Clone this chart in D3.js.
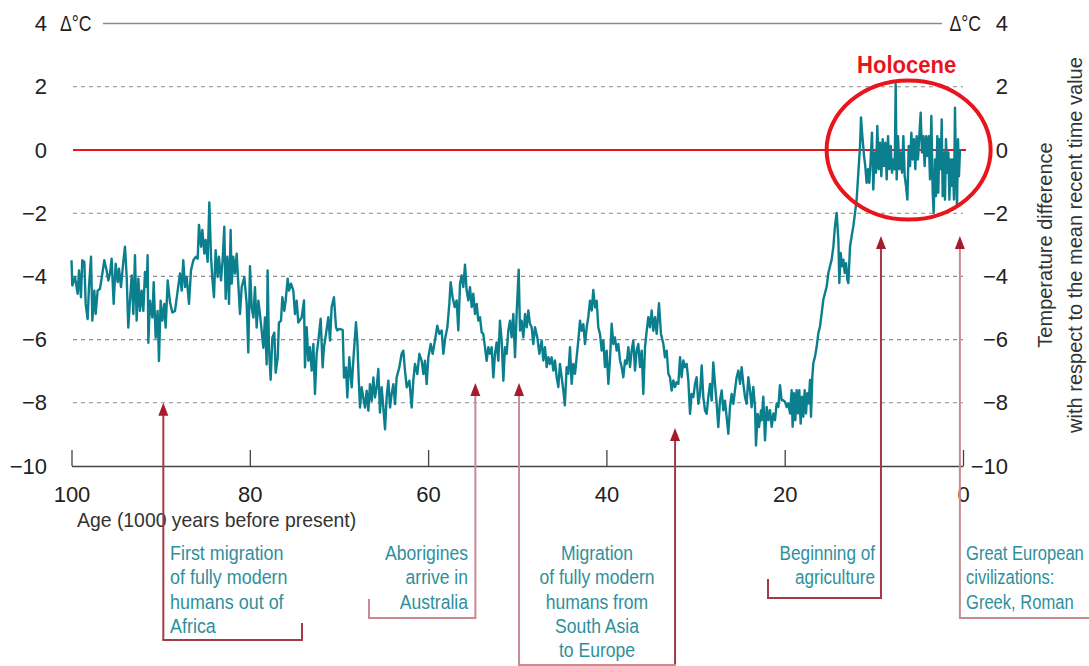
<!DOCTYPE html>
<html><head><meta charset="utf-8">
<script src="https://cdn.jsdelivr.net/npm/d3@7"></script>
<style>
html,body{margin:0;padding:0;background:#fff;}
svg text{font-family:"Liberation Sans Narrow","Liberation Sans",Arial,sans-serif;}
</style></head><body>
<svg id="chart" width="1089" height="666"></svg>
<script>
// ---- DATA ----
const ages = [
100.00,99.91,99.61,99.31,99.16,98.94,98.79,98.56,98.41,98.19,98.04,97.81,97.66,97.44,97.29,97.07,96.80,96.54,96.32,96.06,
95.87,95.68,95.50,95.27,95.05,94.82,94.67,94.45,94.19,94.00,93.81,93.63,93.44,93.25,93.06,92.88,92.69,92.50,92.32,92.13,
91.94,91.76,91.57,91.46,91.38,91.20,90.93,90.78,90.56,90.34,90.19,90.00,89.81,89.59,89.44,89.21,88.95,88.69,88.39,88.09,
87.83,87.64,87.46,87.27,87.08,86.82,86.60,86.33,86.07,85.85,85.70,85.47,85.32,85.10,84.95,84.73,84.54,84.35,84.20,84.02,
83.83,83.61,83.46,83.23,83.05,82.86,82.71,82.52,82.33,82.15,82.03,81.85,81.66,81.47,81.29,81.10,80.91,80.61,80.35,80.17,
79.98,79.79,79.60,79.42,79.23,79.04,78.86,78.67,78.48,78.30,78.11,78.00,77.85,77.66,77.47,77.25,77.10,76.87,76.73,76.50,
76.35,76.13,75.98,75.75,75.60,75.38,75.12,74.93,74.74,74.56,74.18,
73.92,73.81,73.62,73.43,73.25,73.06,72.87,72.69,72.50,72.31,72.05,71.83,71.68,71.45,71.19,71.00,70.82,70.56,70.33,70.18,
69.96,69.58,69.43,69.21,69.06,68.84,68.57,68.39,68.09,67.94,67.79,67.64,67.45,67.27,67.08,66.89,66.70,66.52,66.33,66.14,
65.96,65.77,65.58,65.40,65.21,65.02,64.83,64.65,64.46,64.27,64.09,63.90,63.71,63.53,63.23,62.97,62.78,62.59,62.40,62.10,
61.84,61.66,61.47,61.21,60.98,60.72,60.53,60.35,60.16,59.97,59.71,59.49,59.23,58.97,58.74,58.48,58.29,58.07,57.84,57.62,
57.47,57.25,57.02,56.80,56.61,56.42,56.24,56.05,55.86,55.68,55.49,55.30,55.11,54.93,54.74,54.55,54.37,54.18,53.99,53.81,
53.62,53.43,53.24,53.06,52.87,52.68,52.50,52.31,52.12,51.94,51.75,51.56,51.38,51.19,51.00,50.81,50.63,50.44,50.25,50.07,
49.84,49.69,49.51,49.32,49.13,48.94,48.76,48.57,48.38,48.20,48.01,47.75,47.52,
47.26,47.08,46.89,46.70,46.51,46.33,46.14,45.95,45.77,45.58,45.39,45.21,45.02,44.83,44.66,44.46,44.27,44.08,43.90,43.71,
43.52,43.34,43.15,42.96,42.78,42.59,42.40,42.21,42.03,41.84,41.65,41.47,41.28,41.09,40.91,40.72,40.53,40.34,40.16,39.97,
39.78,39.60,39.41,39.22,39.04,38.85,38.66,38.47,38.29,38.10,37.91,37.73,37.54,37.35,37.17,36.98,36.79,36.61,36.42,36.23,
36.04,35.86,35.67,35.48,35.30,35.11,34.92,34.74,34.55,34.36,34.10,33.88,33.61,33.43,33.24,33.05,32.87,32.68,32.49,32.31,
32.12,31.93,31.74,31.56,31.37,31.18,31.00,30.81,30.62,30.44,30.25,30.06,29.88,29.69,29.50,29.31,29.13,28.94,28.75,28.57,
28.38,28.19,28.01,27.82,27.63,27.45,27.26,27.07,26.88,26.70,26.51,26.32,26.14,25.95,25.76,25.58,25.39,25.20,25.01,24.83,
24.64,24.45,24.27,24.08,23.89,23.71,23.52,23.33,23.22,23.03,22.88,22.66,
22.58,22.40,22.21,22.02,21.84,21.65,21.46,21.27,21.09,20.90,20.71,20.53,20.34,20.15,19.97,19.78,19.59,19.40,19.22,19.11,
18.96,18.81,18.66,18.51,18.36,18.21,18.06,17.91,17.76,17.61,17.46,17.31,17.16,17.05,16.90,16.79,16.60,16.41,16.23,16.04,
15.85,15.67,15.48,15.29,15.10,14.92,14.73,14.54,14.36,14.17,13.98,13.87,13.72,13.57,13.42,13.27,13.12,12.97,12.86,12.67,
12.49,12.30,12.11,11.93,11.74,11.55,11.44,11.29,11.10,10.96,10.81,10.66,10.51,10.36,10.21,10.06,9.91,9.76,9.61,9.46,
9.31,9.16,9.01,8.86,8.71,8.56,8.41,8.26,8.11,7.96,7.81,7.66,7.55,7.44,7.29,7.14,6.99,6.84,6.69,6.54,
6.39,6.24,6.09,5.94,5.79,5.65,5.50,5.35,5.20,5.05,4.90,4.75,4.60,4.45,4.30,4.15,4.00,3.85,3.70,3.55,
3.40,3.29,3.14,3.03,2.88,2.77,2.65,2.50,2.39,2.28,2.13,2.02,1.91,1.76,1.64,1.53,1.38,1.27,1.16,1.01,
0.90,0.79,0.67,0.56,0.45,0.34
];
const temps = [
-3.49,-4.29,-4.02,-4.55,-3.81,-4.66,-3.49,-3.54,-4.87,-5.35,-4.34,-3.38,-5.40,-4.45,-5.19,-4.45,-4.39,-3.91,-3.49,-3.81,
-4.13,-3.91,-3.44,-4.87,-3.60,-4.18,-3.76,-4.34,-3.54,-3.06,-4.02,-5.62,-4.77,-3.97,-5.19,-3.33,-5.40,-4.07,-5.09,-4.45,
-5.09,-3.86,-4.34,-3.33,-6.10,-4.77,-5.30,-4.18,-5.94,-5.09,-6.68,-4.77,-5.40,-4.87,-5.62,-4.13,-4.82,-5.14,-5.09,-4.45,
-3.91,-4.45,-3.49,-4.34,-4.02,-4.87,-3.81,-3.49,-3.38,-3.44,-2.37,-3.06,-2.53,-3.28,-2.85,-3.54,-1.66,-3.38,-4.07,-4.66,
-3.17,-4.02,-3.38,-4.13,-3.49,-2.43,-4.71,-3.38,-4.87,-2.53,-4.23,-3.38,-3.91,-3.28,-4.23,-5.19,-4.34,-4.02,-4.87,-6.41,
-3.68,-4.98,-5.30,-4.34,-5.62,-4.77,-5.19,-5.72,-6.26,-5.30,-6.79,-3.81,-6.26,-7.27,-5.94,-5.78,-7.05,-6.57,-5.46,-5.40,
-4.66,-5.09,-4.77,-4.07,-4.45,-4.23,-4.45,-5.19,-4.77,-5.46,-5.30,
-4.76,-6.88,-5.61,-6.67,-6.24,-6.98,-6.14,-7.72,-6.45,-6.03,-5.34,-6.88,-6.24,-5.82,-5.29,-6.03,-4.97,-4.66,-5.61,-5.71,
-5.66,-5.69,-7.20,-6.88,-7.83,-6.56,-7.51,-6.67,-5.45,-6.03,-7.20,-8.15,-7.51,-7.83,-8.15,-7.62,-8.25,-7.41,-7.94,-7.20,
-7.83,-7.51,-6.93,-8.31,-7.51,-8.15,-8.84,-7.83,-7.30,-8.15,-7.72,-7.41,-8.04,-7.20,-6.88,-6.45,-6.35,-6.98,-7.51,-7.30,
-8.15,-7.30,-6.77,-7.09,-6.45,-6.67,-7.09,-6.67,-7.41,-6.56,-6.14,-6.45,-6.03,-5.56,-5.82,-5.71,-6.45,-5.93,-5.61,-4.87,
-4.18,-4.66,-4.97,-4.76,-5.71,-4.23,-3.97,-4.34,-3.63,-4.44,-4.76,-4.34,-4.97,-4.55,-5.19,-4.87,-5.40,-5.29,-5.77,-5.82,
-6.24,-6.67,-6.24,-6.45,-6.24,-7.20,-6.45,-6.09,-6.67,-5.40,-6.03,-7.30,-6.24,-6.45,-5.71,-5.40,-5.93,-5.19,-6.56,-5.19,
-3.79,-5.71,-5.40,-5.93,-5.19,-5.61,-5.08,-5.50,-5.61,-6.14,-5.61,-5.93,-6.45,
-6.03,-6.66,-6.24,-6.87,-6.56,-6.77,-6.56,-6.98,-6.66,-7.19,-7.50,-6.77,-7.19,-7.61,-8.08,-6.87,-7.08,-6.24,-7.40,-6.77,
-7.08,-6.56,-6.03,-5.40,-5.72,-5.51,-6.14,-5.61,-5.29,-4.77,-5.08,-4.43,-4.98,-4.77,-5.61,-5.82,-6.35,-6.03,-6.87,-6.35,
-7.40,-6.66,-5.50,-6.14,-5.93,-6.35,-6.14,-6.66,-6.87,-7.19,-6.66,-6.77,-6.24,-6.87,-6.35,-6.03,-6.98,-6.35,-6.14,-6.87,
-6.35,-7.72,-6.24,-5.72,-5.29,-5.61,-5.08,-5.72,-5.29,-5.82,-4.85,-5.82,-6.14,-6.56,-6.35,-7.08,-7.19,-7.61,-7.29,-7.50,
-7.35,-7.40,-6.56,-7.19,-6.66,-6.87,-6.77,-7.29,-8.35,-7.72,-7.82,-7.40,-7.19,-8.03,-7.72,-6.82,-7.82,-8.24,-8.35,-7.82,
-7.40,-7.93,-6.72,-7.40,-8.03,-8.77,-7.93,-7.61,-8.24,-7.93,-8.45,-8.98,-8.14,-7.72,-8.03,-7.61,-7.19,-6.98,-7.40,-6.87,
-7.40,-7.82,-8.03,-7.19,-7.61,-8.14,-7.50,-8.14,-9.35,-8.35,-8.77,-8.24,
-8.55,-7.81,-9.19,-8.13,-8.55,-8.23,-8.76,-8.34,-8.55,-8.02,-8.13,-7.44,-7.92,-7.92,-7.97,-8.13,-8.02,-8.34,-7.60,-8.76,
-7.70,-8.55,-7.60,-8.34,-7.60,-8.66,-7.81,-8.44,-7.60,-8.34,-7.70,-8.02,-7.28,-8.44,-7.17,-6.75,-6.54,-6.22,-5.80,-5.59,
-5.16,-4.74,-4.53,-4.32,-3.89,-3.68,-3.47,-3.05,-2.41,-1.99,-2.84,-4.21,-3.26,-3.68,-3.47,-3.89,-3.58,-4.11,-4.21,-3.05,
-2.73,-2.41,-1.99,-1.57,-0.72,0.13,1.03,0.44,-0.19,-0.51,-1.04,-0.61,-1.04,-0.30,0.55,-1.25,-0.08,-0.72,0.76,-0.61,
0.23,-0.83,0.34,-0.51,0.23,-0.93,0.44,-0.61,0.13,-0.72,-0.30,-0.61,2.08,-0.93,0.44,-0.61,-0.08,-0.72,0.44,-0.83,
-1.14,-1.57,0.13,-0.51,0.55,-0.30,0.34,-0.61,0.44,-0.30,0.44,1.18,-0.08,0.44,-0.51,0.44,-0.19,0.44,-0.93,1.08,
-1.35,-1.99,-0.30,-1.46,0.44,-1.35,0.34,-0.61,0.97,-1.46,-0.08,-1.57,0.34,-0.72,-0.08,-1.57,-0.30,-1.14,-0.30,-1.57,
1.34,-0.61,-1.78,0.34,-0.83,0.02
];
const yTicks = [4, 2, 0, -2, -4, -6, -8, -10];
const gridValues = [2, -2, -4, -6, -8];
const xTicks = [100, 80, 60, 40, 20, 0];
const unitLabel = "Δ°C";
const xTitle = "Age (1000 years before present)";
const yTitleLines = ["Temperature difference", "with respect to the mean recent time value"];
const holoceneLabel = "Holocene";
const holoceneAges = [15.3, -3.1];      // left / right extent of the circled period
const holoceneTemps = [2.2, -2.2];      // top / bottom extent
const eventAges = [89.7, 54.7, 49.8, 32.3, 9.2, 0.35];
const eventTips = [-8.0, -7.37, -7.37, -8.8, -2.72, -2.72];
const eventTexts = [
  ["First migration", "of fully modern", "humans out of", "Africa"],
  ["Aborigines", "arrive in", "Australia"],
  ["Migration", "of fully modern", "humans from", "South Asia", "to Europe"],
  ["Beginning of", "agriculture"],
  ["Great European", "civilizations:", "Greek, Roman"]
];

// ---- CHART ----
const svg = d3.select("#chart");
const x = d3.scaleLinear().domain([100, 0]).range([71.5, 963]);
const y = d3.scaleLinear().domain([-10, 4]).range([466, 23.6]);

const TEAL = "#0b7f8d", RED = "#e8151d", TXT = "#2f8f9c";
const DARK = "#a23a47", LIGHT = "#c98a92", HEAD = "#a51c2c";

// place a horizontally condensed text (reference uses a condensed face)
function ctext(parent, tx, ty, str, sx, size, anchor, fill, weight) {
  return parent.append("text")
    .attr("transform", `translate(${tx},${ty}) scale(${sx},1)`)
    .attr("text-anchor", anchor || "start")
    .attr("font-size", size).attr("fill", fill)
    .attr("font-weight", weight || "normal").text(str);
}

// grid lines
svg.append("g").selectAll("line").data(gridValues).join("line")
  .attr("x1", 73).attr("x2", 963)
  .attr("y1", d => y(d)).attr("y2", d => y(d))
  .attr("stroke", "#8a8a8a").attr("stroke-width", 1.1).attr("stroke-dasharray", "4,4");

// top line at 4
svg.append("line").attr("x1", 103).attr("x2", 942).attr("y1", y(4)).attr("y2", y(4))
  .attr("stroke", "#8a8a8a").attr("stroke-width", 1.5);

// left axis labels
const yl = svg.append("g").attr("transform", "translate(55,0)")
  .call(d3.axisLeft(y).tickValues(yTicks).tickSize(0).tickPadding(8));
yl.select(".domain").remove();
yl.selectAll("text").attr("font-size", 22).attr("fill", "#222")
  .style("font-family", '"Liberation Sans Narrow","Liberation Sans",sans-serif');

// right axis labels
const yr = svg.append("g").attr("transform", "translate(1008,0)")
  .call(d3.axisRight(y).tickValues(yTicks).tickSize(0).tickPadding(0));
yr.select(".domain").remove();
yr.selectAll("text").attr("text-anchor", "end").attr("x", 0).attr("font-size", 22).attr("fill", "#222")
  .style("font-family", '"Liberation Sans Narrow","Liberation Sans",sans-serif');

// unit labels
ctext(svg, 60, y(4) + 7.5, unitLabel, 0.8, 22, "start", "#222");
ctext(svg, 981, y(4) + 7.5, unitLabel, 0.8, 22, "end", "#222");

// zero line
svg.append("line").attr("x1", 73).attr("x2", 966).attr("y1", y(0)).attr("y2", y(0))
  .attr("stroke", RED).attr("stroke-width", 2);

// x axis
const xa = svg.append("g").attr("transform", `translate(0,${y(-10)})`)
  .call(d3.axisBottom(x).tickValues(xTicks).tickSizeInner(-16).tickSizeOuter(0).tickPadding(20));
xa.select(".domain").attr("stroke", "#444").attr("stroke-width", 1.5);
xa.selectAll(".tick line").attr("stroke", "#444").attr("stroke-width", 1.3);
xa.selectAll("text").attr("font-size", 22).attr("fill", "#222")
  .style("font-family", '"Liberation Sans Narrow","Liberation Sans",sans-serif');

ctext(svg, 77, 527, xTitle, 0.97, 20, "start", "#333");

// right title
const rt = svg.append("text").attr("transform", "translate(1060,245) rotate(-90)")
  .attr("text-anchor", "middle").attr("font-size", 20).attr("fill", "#333");
yTitleLines.forEach((t, i) => rt.append("tspan").attr("x", 0).attr("y", i === 0 ? -8 : 22).text(t));

// temperature line
const data = ages.map((a, i) => [a, temps[i]]);
svg.append("path").datum(data)
  .attr("fill", "none").attr("stroke", TEAL).attr("stroke-width", 2.4).attr("stroke-linejoin", "round")
  .attr("d", d3.line().x(d => x(d[0])).y(d => y(d[1])));

// Holocene ellipse
const ex0 = x(holoceneAges[0]), ex1 = x(holoceneAges[1]);
const ey0 = y(holoceneTemps[0]), ey1 = y(holoceneTemps[1]);
svg.append("ellipse").attr("cx", (ex0 + ex1) / 2).attr("cy", (ey0 + ey1) / 2)
  .attr("rx", (ex1 - ex0) / 2).attr("ry", (ey1 - ey0) / 2)
  .attr("fill", "none").attr("stroke", RED).attr("stroke-width", 4);
ctext(svg, (ex0 + ex1) / 2 - 2, 73, holoceneLabel, 0.92, 24, "middle", RED, "bold");

// annotations
const ann = svg.append("g");
function arrowLine(ev, yBottom, color) {
  const ax = x(eventAges[ev]), ty = y(eventTips[ev]);
  ann.append("line").attr("x1", ax).attr("x2", ax).attr("y1", ty + 8).attr("y2", yBottom)
    .attr("stroke", color).attr("stroke-width", 2);
  ann.append("path").attr("d", `M${ax},${ty} L${ax - 5},${ty + 13} L${ax + 5},${ty + 13} Z`).attr("fill", HEAD);
  return ax;
}
function seg(x1, y1, x2, y2, color) {
  ann.append("line").attr("x1", x1).attr("x2", x2).attr("y1", y1).attr("y2", y2)
    .attr("stroke", color).attr("stroke-width", 2).attr("stroke-linecap", "square");
}
function label(lines, tx, anchor, sx) {
  lines.forEach((t, i) => ctext(ann, tx, 560 + i * 24.3, t, sx, 19.5, anchor, TXT));
}
// Africa
let ax = arrowLine(0, 640, DARK);
seg(ax, 640, 302, 640, DARK); seg(302, 640, 302, 624, DARK);
label(eventTexts[0], 170, "start", 0.92);
// Aborigines
ax = arrowLine(1, 618, LIGHT);
seg(ax, 618, 369, 618, LIGHT); seg(369, 618, 369, 600, LIGHT);
label(eventTexts[1], 468, "end", 0.9);
// Migration to Europe
const m1 = arrowLine(2, 665, LIGHT), m2 = arrowLine(3, 665, DARK);
seg(m1, 665, m2, 665, LIGHT);
label(eventTexts[2], 597, "middle", 0.9);
// Agriculture
ax = arrowLine(4, 598, DARK);
seg(ax, 598, 768, 598, DARK); seg(768, 598, 768, 580, DARK);
label(eventTexts[3], 875, "end", 0.88);
// European civilizations
ax = arrowLine(5, 618, LIGHT);
seg(ax, 618, 1089, 618, LIGHT);
label(eventTexts[4], 966, "start", 0.85);
</script>
</body></html>
